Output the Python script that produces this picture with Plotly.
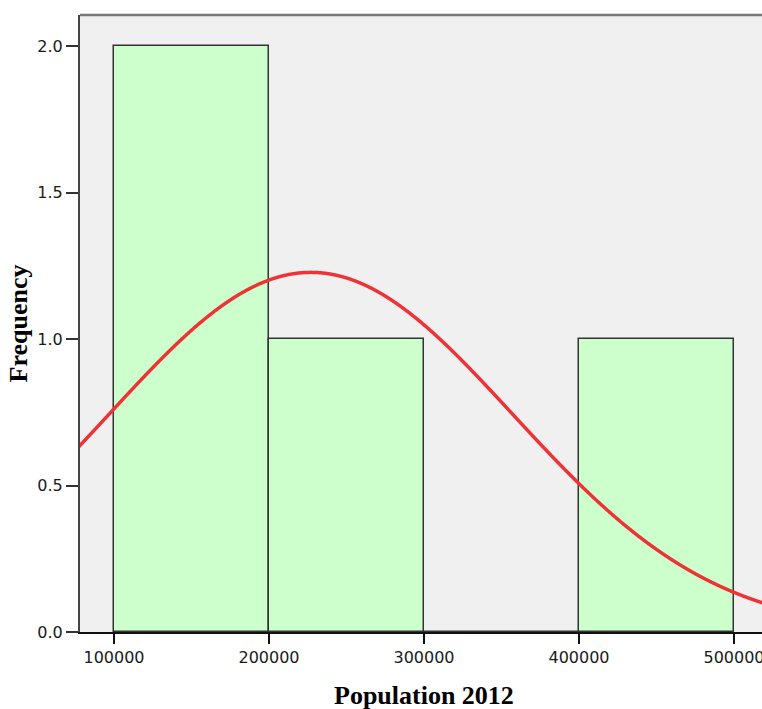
import numpy as np
import plotly.graph_objects as go

# Histogram data (bins of 100000)
bin_starts = [100000, 200000, 300000, 400000]
bin_width = 100000
counts = [2, 1, 0, 1]

# Normal curve parameters (fitted)
n_obs = 4
mean_pop = 227000
sd_pop = 130000

x_ticks = [100000, 200000, 300000, 400000, 500000]
y_ticks = [0.0, 0.5, 1.0, 1.5, 2.0]

x_range = [78065, 518065]
y_range = [0, 2.106]

fig = go.Figure()

centers = [s + bin_width / 2 for s in bin_starts]
fig.add_trace(go.Bar(
    x=centers, y=counts, width=[bin_width] * len(counts),
    marker=dict(color="#CCFFCC", line=dict(color="#333333", width=1.5)),
    showlegend=False, hoverinfo="skip",
))

xs = np.linspace(60000, 540000, 1200)
ys = n_obs * bin_width / (sd_pop * np.sqrt(2 * np.pi)) * np.exp(-0.5 * ((xs - mean_pop) / sd_pop) ** 2)
fig.add_trace(go.Scatter(
    x=xs, y=ys, mode="lines",
    line=dict(color="#EE3338", width=3.5, shape="spline"),
    showlegend=False, hoverinfo="skip",
))

tick_font = dict(family="DejaVu Sans", size=16, color="#1a1a1a")
fig.update_layout(
    width=762, height=709,
    margin=dict(l=80, r=0, t=15, b=77),
    paper_bgcolor="white", plot_bgcolor="#F0F0F0",
    bargap=0,
    xaxis=dict(range=x_range, tickvals=x_ticks, ticktext=[str(v) for v in x_ticks],
               ticks="outside", ticklen=10, tickwidth=1.5, tickcolor="#111111",
               showline=True, linecolor="#111111", linewidth=1.5,
               showgrid=False, zeroline=False, tickfont=tick_font,
               automargin=False, ticklabeloverflow="allow"),
    yaxis=dict(range=y_range, tickvals=y_ticks, ticktext=[f"{v:.1f}" for v in y_ticks],
               ticks="outside", ticklen=12, tickwidth=1.5, tickcolor="#333333",
               showline=True, linecolor="#444444", linewidth=2,
               showgrid=False, zeroline=False, tickfont=tick_font,
               automargin=False),
    shapes=[dict(type="line", xref="paper", yref="paper", x0=0, x1=1, y0=1, y1=1,
                 line=dict(color="#777777", width=2.5))],
    annotations=[
        dict(text="<b>Population 2012</b>", xref="paper", yref="paper",
             x=0.505, y=-0.1037, xanchor="center", yanchor="middle", showarrow=False,
             font=dict(family="Liberation Serif", size=26, color="#000000")),
        dict(text="<b>Frequency</b>", xref="paper", yref="paper",
             x=-0.0909, y=0.5, xanchor="center", yanchor="middle", showarrow=False,
             textangle=-90,
             font=dict(family="Liberation Serif", size=26, color="#000000")),
    ],
)

fig.write_html(
    "out.html",
    config={"displayModeBar": False},
    post_script="document.body.style.margin='0';document.body.style.overflow='hidden';",
)
